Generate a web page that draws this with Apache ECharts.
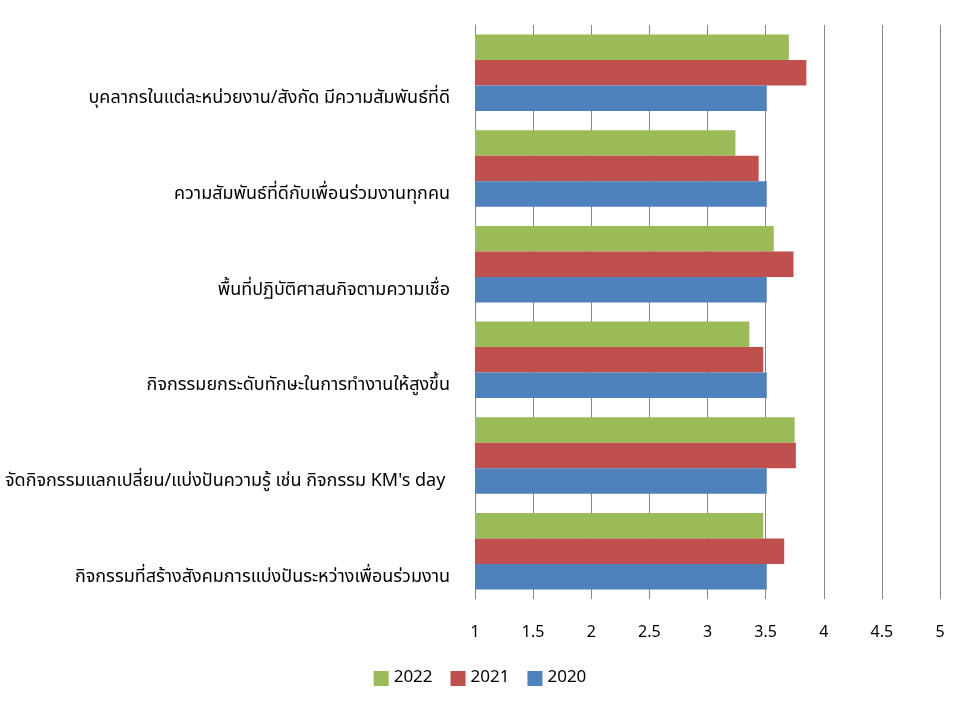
<!DOCTYPE html>
<html>
<head>
<meta charset="utf-8">
<script src="https://cdn.jsdelivr.net/npm/echarts@6/dist/echarts.min.js"></script>
<style>
html,body{margin:0;padding:0;background:#fff;}
#chart{width:960px;height:720px;}
</style>
</head>
<body>
<div id="chart"></div>
<script>
const categories = [
  'บุคลากรในแต่ละหน่วยงาน/สังกัด มีความสัมพันธ์ที่ดี',
  'ความสัมพันธ์ที่ดีกับเพื่อนร่วมงานทุกคน',
  'พื้นที่ปฏิบัติศาสนกิจตามความเชื่อ',
  'กิจกรรมยกระดับทักษะในการทำงานให้สูงขึ้น',
  'จัดกิจกรรมแลกเปลี่ยน/แบ่งปันความรู้ เช่น กิจกรรม KM\'s day ',
  'กิจกรรมที่สร้างสังคมการแบ่งปันระหว่างเพื่อนร่วมงาน'
];
const values2022 = [3.70, 3.24, 3.57, 3.36, 3.75, 3.48];
const values2021 = [3.85, 3.44, 3.74, 3.48, 3.76, 3.66];
const values2020 = [3.51, 3.51, 3.51, 3.51, 3.51, 3.51];
const seriesNames = ['2022', '2021', '2020'];
const xTicks = [1, 1.5, 2, 2.5, 3, 3.5, 4, 4.5, 5];

const font = 'Tahoma, "Noto Sans Thai", "Noto Sans", "DejaVu Sans", sans-serif';
const chart = echarts.init(document.getElementById('chart'), null, {renderer: 'canvas'});
chart.setOption({
  animation: false,
  textStyle: {fontFamily: font},
  grid: {left: 475, right: 20, top: 25, bottom: 121, containLabel: false},
  legend: {
    bottom: 28,
    left: 'center',
    itemWidth: 15,
    itemHeight: 15,
    itemGap: 18,
    icon: 'rect',
    textStyle: {fontSize: 17, color: '#000', fontFamily: font},
    data: seriesNames
  },
  xAxis: {
    type: 'value',
    min: xTicks[0],
    max: xTicks[xTicks.length - 1],
    interval: 0.5,
    axisLine: {show: false},
    axisTick: {show: false},
    axisLabel: {fontSize: 16, color: '#000', margin: 27, fontFamily: font},
    splitLine: {show: true, lineStyle: {color: '#868686', width: 1}}
  },
  yAxis: {
    type: 'category',
    inverse: true,
    data: categories,
    axisLine: {show: true, lineStyle: {color: '#868686', width: 1}},
    axisTick: {show: false},
    axisLabel: {
      interval: 0,
      hideOverlap: false,
      fontSize: 18, color: '#000', margin: 25, fontFamily: font,
      lineHeight: 54,
      formatter: function (v) { return '\n' + v; }
    }
  },
  series: [
    {name: seriesNames[0], type: 'bar', data: values2022, itemStyle: {color: '#9BBB59'}, barGap: '0%', barCategoryGap: '20%'},
    {name: seriesNames[1], type: 'bar', data: values2021, itemStyle: {color: '#C0504D'}, barGap: '0%', barCategoryGap: '20%'},
    {name: seriesNames[2], type: 'bar', data: values2020, itemStyle: {color: '#4F81BD'}, barGap: '0%', barCategoryGap: '20%'}
  ]
});
</script>
</body>
</html>
